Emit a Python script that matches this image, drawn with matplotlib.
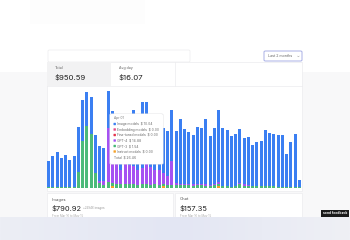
import numpy as np
import matplotlib
matplotlib.use("Agg")
import matplotlib.pyplot as plt
from matplotlib.patches import Rectangle, FancyBboxPatch
from matplotlib.colors import LinearSegmentedColormap

plt.rcParams['font.family'] = ['Inter', 'DejaVu Sans']

W, H = 350, 240

# daily spend in dollars, 60 days
image_models = [7.15, 8.6, 9.6, 8.05, 8.8, 7.3, 8.4, 12.2, 11.2, 9.4,
                10.3, 10.2, 9.6, 9.2, 10.04, 13.0, 9.3, 11.5, 11.0, 9.3,
                15.5, 12.2, 18.1, 16.4, 10.2, 12.5, 10.2, 12.2, 12.2, 14.2,
                14.3, 17.9, 15.2, 14.3, 13.6, 15.6, 15.2, 17.8, 13.4, 15.4,
                19.8, 15.9, 15.3, 13.8, 14.2, 14.9, 12.8, 13.1, 11.4, 11.9,
                12.5, 15.5, 14.6, 14.1, 14.2, 14.0, 8.8, 12.1, 14.4, 1.8]
gpt4 = [0, 0, 0, 0, 0, 0, 0, 0, 0, 0,
        0, 0, 0.4, 1.0, 14.88, 6.5, 7.0, 4.0, 6.0, 5.0,
        5.0, 4.0, 4.5, 6.0, 5.0, 4.0, 4.0, 3.0, 2.5, 6.4,
        0.5, 0.3, 0.2, 0.3, 0.4, 0.3, 0.3, 0.4, 0.3, 0.3,
        0.5, 0, 0, 0, 0, 0.3, 0.4, 0.3, 0, 0,
        0, 0, 0, 0, 0, 0, 0, 0, 0, 0]
gpt3 = [0.3, 0.3, 0.3, 0.3, 0.3, 0.3, 0.3, 4.44, 12.8, 17.0,
        14.7, 4.2, 1.4, 0.8, 1.54, 1.0, 1.2, 1.0, 1.0, 1.2,
        1.0, 0.8, 1.0, 1.2, 0.8, 1.0, 0.8, 0.6, 0.8, 0.9,
        0.8, 0.8, 0.8, 0.7, 0.6, 0.8, 0.9, 0.6, 0.6, 0.8,
        0.6, 0.6, 0.5, 0.4, 0.5, 1.0, 0.6, 0.5, 0.5, 0.6,
        0.5, 0.5, 0.5, 0.6, 0.4, 0.4, 0.4, 0.4, 0.4, 0.3]
instruct = [0] * 60
instruct[15] = 0.5
instruct[27] = 0.6
instruct[40] = 0.5

tooltip_names = ["Image models", "Embedding models", "Fine-tuned models",
                 "GPT-4", "GPT-3", "Instruct models"]
tooltip_values = ["$ 10.04", "$ 0.00", "$ 0.00", "$ 14.88", "$ 1.54", "$ 0.00"]
tooltip_colors = ["#3b7ff2", "#e64a86", "#e5334b", "#a552f2", "#45b774", "#f4a12a"]

BLUE, PURPLE, GREEN, ORANGE = "#3b7ff2", "#a552f2", "#4cba7a", "#f4a12a"


def fx(x):
    return x / W


def fy(y):
    return 1 - y / H


def box(x0, y0, x1, y1, fc, ec="none", lw=0.5, z=1, r=0):
    if r > 0:
        p = FancyBboxPatch((fx(x0), fy(y1)), fx(x1) - fx(x0), fy(y0) - fy(y1),
                           boxstyle=f"round,pad=0,rounding_size={r / W}",
                           transform=fig.transFigure, fc=fc, ec=ec, lw=lw, zorder=z)
    else:
        p = Rectangle((fx(x0), fy(y1)), fx(x1) - fx(x0), fy(y0) - fy(y1),
                      transform=fig.transFigure, fc=fc, ec=ec, lw=lw, zorder=z)
    fig.add_artist(p)


def txt(x, y, s, size, color="#333333", weight="normal", ha="left", z=5):
    fig.text(fx(x), fy(y), s, fontsize=size, color=color, weight=weight,
             ha=ha, va="center", zorder=z)


fig = plt.figure(figsize=(3.5, 2.4), dpi=100)
fig.patch.set_facecolor("white")

# page background below header
box(0, 72, 350, 240, "#f8f8f9", z=0)
# faint header shape
box(30, 0, 145, 24, "#fdfdfd", z=0)

# search box and range picker
box(48, 50, 190, 62, "white", ec="#ececee", lw=0.5, r=1.5)
box(264, 51, 302, 61, "white", ec="#a9b0e6", lw=0.7, r=1.5)
txt(268, 56, "Last 2 months", 2.6, color="#666666")
txt(298, 56, "⌄", 2.6, color="#666666", ha="center")

# main card
box(47, 62, 302, 191, "white", ec="#ececee", lw=0.5, z=1)
box(47, 62, 111, 86, "#f2f2f3", z=1.5)
fig.add_artist(plt.Line2D([fx(47), fx(302)], [fy(86), fy(86)],
                          transform=fig.transFigure, color="#ececee", lw=0.5, zorder=2))
fig.add_artist(plt.Line2D([fx(175), fx(175)], [fy(62), fy(86)],
                          transform=fig.transFigure, color="#ececee", lw=0.5, zorder=2))
txt(55, 68, "Total", 2.6, color="#666666")
txt(55, 77.5, "$950.59", 5.6, color="#222222")
txt(119, 68, "Avg day", 2.6, color="#666666")
txt(119, 77.5, "$16.07", 5.6, color="#222222")

# stacked bar chart
ax = fig.add_axes([fx(46), fy(188), fx(302) - fx(46), fy(87) - fy(188)], zorder=3)
ax.patch.set_alpha(0)
idx = np.arange(len(image_models))
bottom = np.zeros(len(idx))
for vals, col in [(instruct, ORANGE), (gpt3, GREEN), (gpt4, PURPLE), (image_models, BLUE)]:
    v = np.array(vals)
    ax.bar(idx, v, bottom=bottom, width=0.72, color=col, linewidth=0, zorder=3)
    bottom += v
ax.set_xlim(-0.63, 59.6)
ax.set_ylim(0, 27.67)
ax.axis("off")

# tooltip
box(109.5, 113.5, 163.5, 164.5, "#e6e6e8", z=6, r=2)
box(110, 114, 163, 164, "white", z=7, r=2)
fig.text(fx(114), fy(118.5), "Apr 01", fontsize=2.4, color="#777777", va="center", zorder=8)
for i, (n, v, c) in enumerate(zip(tooltip_names, tooltip_values, tooltip_colors)):
    yy = 124 + i * 5.5
    box(113.5, yy - 1.2, 115.9, yy + 1.2, c, z=8, r=0.5)
    fig.text(fx(117.5), fy(yy), f"{n}  {v}", fontsize=2.4, color="#666666",
             va="center", zorder=8)
fig.text(fx(114), fy(157.5), "Total  $ 26.46", fontsize=2.4, color="#666666",
         va="center", zorder=8)

# lower cards
box(47, 193, 173, 225, "white", ec="#ececee", lw=0.5, z=1)
box(175, 193, 302, 225, "white", ec="#ececee", lw=0.5, z=1)
txt(52, 199.5, "Images", 3.0, color="#555555")
txt(52, 208.5, "$790.92", 5.4, color="#222222")
txt(83, 208.5, "+29946 images", 2.1, color="#999999")
txt(52, 215.5, "From Mar 16 to May 15", 2.1, color="#aaaaaa")
txt(180, 199.5, "Chat", 3.0, color="#555555")
txt(180, 208.5, "$157.35", 5.4, color="#222222")
txt(180, 215.5, "From Mar 16 to May 15", 2.1, color="#aaaaaa")

# bottom fade band
grad = np.linspace(0, 1, 256).reshape(1, -1)
bax = fig.add_axes([0, 0, 1, fy(217)], zorder=20)
cm = LinearSegmentedColormap.from_list("fade", ["#eceef5", "#e3e6f3", "#eff0f5"])
bax.imshow(grad, aspect="auto", cmap=cm, extent=(0, 1, 0, 1))
bax.axis("off")

# feedback pill
fb = fig.add_axes([fx(321), fy(216.5), fx(349) - fx(321), fy(209.5) - fy(216.5)], zorder=21)
fb.set_facecolor("#1a1a1a")
fb.set_xticks([])
fb.set_yticks([])
for s in fb.spines.values():
    s.set_visible(False)
fb.text(0.5, 0.5, "send feedback", fontsize=2.4, color="white", weight="bold",
        ha="center", va="center", transform=fb.transAxes)

fig.savefig("out.png", dpi=100)
